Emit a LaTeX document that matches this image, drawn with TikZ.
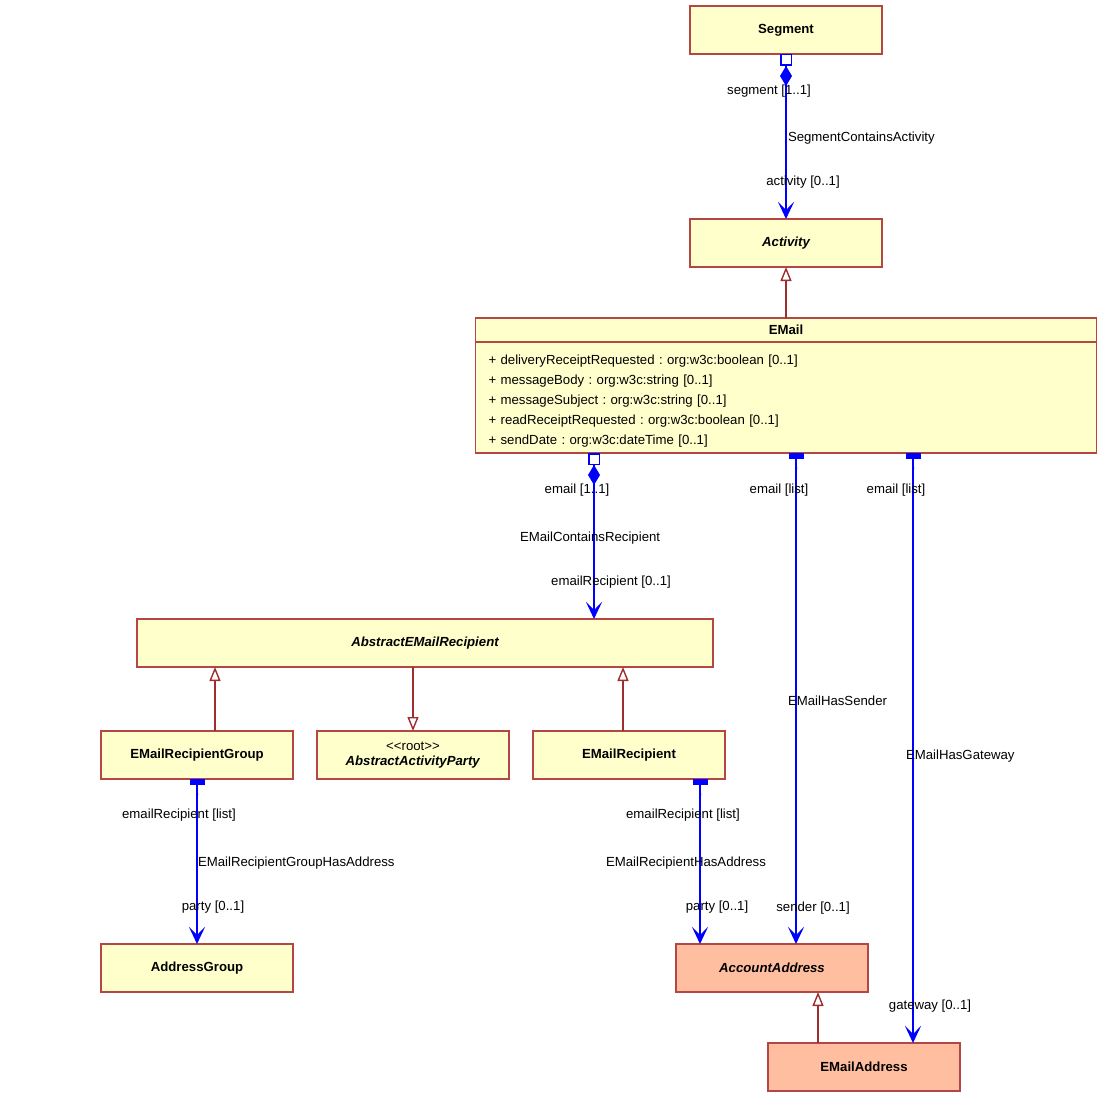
\documentclass[tikz,border=0pt]{standalone}
\usepackage{fontspec}
\setmainfont{Liberation Sans}
\usetikzlibrary{arrows.meta}
\usetikzlibrary{positioning}
\usepackage{xcolor}
\definecolor{umlyellow}{RGB}{255,255,204}
\definecolor{umlsalmon}{RGB}{255,190,160}
\definecolor{umlborder}{RGB}{180,70,70}
\definecolor{umlgen}{RGB}{160,45,45}
\definecolor{umlblue}{RGB}{0,0,255}

\begin{document}
\frenchspacing
\fontsize{13.2pt}{15pt}\selectfont
\begin{tikzpicture}

		\tikzstyle{block} = [rectangle, draw=umlborder, fill=umlyellow, line width=1.7pt, minimum width=192pt, minimum height=48pt, inner sep=0pt, outer sep=0pt, align=center]
		\tikzstyle{addrblock} = [block, fill=umlsalmon]
		\tikzstyle{role} = [inner sep=0pt]
		\tikzstyle{midlbl} = [inner sep=0pt, anchor=west, text=black, yshift=-2pt]
		\tikzstyle{assoc} = [draw=umlblue, line width=2pt]
		\tikzstyle{comp} = [assoc, {Rectangle[open,fill=white,length=12pt,width=12pt,line width=1.5pt] Diamond[length=20pt,width=12pt]}-{Stealth[length=17pt,width=16pt,inset=8pt]}]
		\tikzstyle{list} = [assoc, {Rectangle[length=6pt,width=15pt] Butt Cap[sep=8pt]}-{Stealth[length=17pt,width=16pt,inset=8pt]}]
		\tikzstyle{gen} = [draw=umlgen, line width=1.8pt, -{Triangle[length=14pt,width=11pt,fill=white,line width=1.4pt]}]

		\useasboundingbox (0,0) rectangle (1103pt,-1097pt);

		% classes
		\node [block,font=\bfseries] (seg) at (786pt,-30pt) {Segment};
		\node [block,below=165pt of seg,font=\bfseries\itshape] (act) {Activity};
		\node [block,below=51pt of act,minimum width=621pt,minimum height=24pt,font=\bfseries] (emailt) {EMail};
		\node [block,below=0pt of emailt,minimum width=621pt,minimum height=111pt,inner xsep=13pt,text width=595pt,align=left,font=\fontsize{13.2pt}{20pt}\selectfont] (emailb) {\rule{0pt}{17.5pt}+ deliveryReceiptRequested : org:w3c:boolean [0..1]\\+ messageBody : org:w3c:string [0..1]\\+ messageSubject : org:w3c:string [0..1]\\+ readReceiptRequested : org:w3c:boolean [0..1]\\+ sendDate : org:w3c:dateTime [0..1]};

		\node [block,below=166pt of emailb,xshift=-361pt,minimum width=576pt,font=\bfseries\itshape] (aer) {AbstractEMailRecipient};
		\node [block,below=64pt of aer,xshift=-228pt,font=\bfseries] (erg) {EMailRecipientGroup};
		\node [block,right=24pt of erg] (aap) {<\kern0pt<root>\kern0pt>\\\textbf{\textit{AbstractActivityParty}}};
		\node [block,right=24pt of aap,font=\bfseries] (er) {EMailRecipient};

		\node [block,below=165pt of erg,font=\bfseries] (ag) {AddressGroup};
		\node [addrblock,right=383pt of ag,font=\bfseries\itshape] (acc) {AccountAddress};
		\node [addrblock,below=51pt of acc,xshift=92pt,font=\bfseries] (ema) {EMailAddress};

		% generalizations
		\draw [gen] (emailt.north) -- (act.south);
		\draw [gen] ([xshift=18pt]erg.north) -- ([xshift=-210pt]aer.south);
		\draw [gen] ([xshift=-12pt]aer.south) -- (aap.north);
		\draw [gen] ([xshift=-6pt]er.north) -- ([xshift=198pt]aer.south);
		\draw [gen] ([xshift=-46pt]ema.north) -- ([xshift=46pt]acc.south);

		% associations
		\draw [comp] (seg.south) -- node[midlbl,xshift=1pt] {SegmentContainsActivity} (act.north);
		\node [role] at ([xshift=-17pt,yshift=-37pt]seg.south) {segment [1..1]};
		\node [role] at ([xshift=17pt,yshift=37pt]act.north) {activity [0..1]};

		\draw [comp] ([xshift=-192pt]emailb.south) -- node[midlbl,xshift=-75pt] {EMailContainsRecipient} ([xshift=169pt]aer.north);
		\node [role] at ([xshift=-209pt,yshift=-37pt]emailb.south) {email [1..1]};
		\node [role] at ([xshift=186pt,yshift=37pt]aer.north) {emailRecipient [0..1]};

		\draw [list] ([xshift=10pt]emailb.south) -- node[midlbl,xshift=-9pt] {EMailHasSender} ([xshift=24pt]acc.north);
		\node [role] at ([xshift=-7pt,yshift=-37pt]emailb.south) {email [list]};
		\node [role] at ([xshift=41pt,yshift=36pt]acc.north) {sender [0..1]};

		\draw [list] ([xshift=127pt]emailb.south) -- node[midlbl,pos=0.51,xshift=-8pt] {EMailHasGateway} ([xshift=49pt]ema.north);
		\node [role] at ([xshift=110pt,yshift=-37pt]emailb.south) {email [list]};
		\node [role] at ([xshift=66pt,yshift=37pt]ema.north) {gateway [0..1]};

		\draw [list] (erg.south) -- node[midlbl] {EMailRecipientGroupHasAddress} (ag.north);
		\node [role] at ([xshift=-18pt,yshift=-36pt]erg.south) {emailRecipient [list]};
		\node [role] at ([xshift=16pt,yshift=37pt]ag.north) {party [0..1]};

		\draw [list] ([xshift=71pt]er.south) -- node[midlbl,xshift=-95pt] {EMailRecipientHasAddress} ([xshift=-72pt]acc.north);
		\node [role] at ([xshift=54pt,yshift=-36pt]er.south) {emailRecipient [list]};
		\node [role] at ([xshift=-55pt,yshift=37pt]acc.north) {party [0..1]};

\end{tikzpicture}
\end{document}
